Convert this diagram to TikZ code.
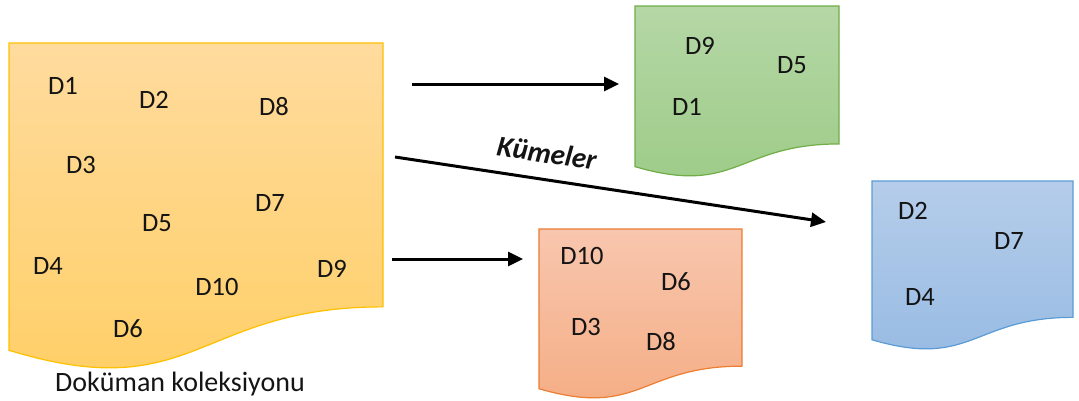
\documentclass[tikz,border=0pt]{standalone}
\usepackage{fontspec}
\setmainfont{Carlito}
\usetikzlibrary{arrows.meta}
\definecolor{txt}{HTML}{141414}
\definecolor{yTop}{HTML}{FFDB9E}
\definecolor{yBot}{HTML}{FFCE62}
\definecolor{yLine}{HTML}{FFC000}
\definecolor{gTop}{HTML}{B5D7A6}
\definecolor{gBot}{HTML}{9CCB86}
\definecolor{gLine}{HTML}{70AD47}
\definecolor{oTop}{HTML}{F8C6AE}
\definecolor{oBot}{HTML}{F4AC82}
\definecolor{oLine}{HTML}{ED7D31}
\definecolor{bTop}{HTML}{B5CDEA}
\definecolor{bBot}{HTML}{96BAE3}
\definecolor{bLine}{HTML}{5B9BD5}
\newcommand\docshape[5]{%
  \draw[#5] (#1,#2) -- (#1+#3,#2) -- (#1+#3,#2+0.802*#4)
    .. controls (#1+0.5*#3,#2+0.802*#4) and (#1+0.5*#3,#2+1.1075*#4) .. (#1,#2+0.934*#4) -- cycle;}
\begin{document}
\begin{tikzpicture}[x=1pt,y=-1pt,
  lbl/.style={text=txt,inner sep=0pt,font=\fontsize{26.5}{30}\selectfont},
  docline/.style={line width=1.2pt},
  arr/.style={line width=3pt,-{Triangle[length=15pt,width=14pt]}}]
\useasboundingbox (0,0) rectangle (1079,400);
% documents
\docshape{9}{43}{374}{329}{docline,draw=yLine,top color=yTop,bottom color=yBot}
\docshape{635}{6}{204}{172}{docline,draw=gLine,top color=gTop,bottom color=gBot}
\docshape{539}{229}{203}{171}{docline,draw=oLine,top color=oTop,bottom color=oBot}
\docshape{872}{181}{201}{170}{docline,draw=bLine,top color=bTop,bottom color=bBot}
% collection labels
\node[lbl] (c1) at (63,86) {D1};
\node[lbl] (c2) at (154,100) {D2};
\node[lbl] (c8) at (274,107) {D8};
\node[lbl] (c3) at (81,165) {D3};
\node[lbl] (c7) at (270,203) {D7};
\node[lbl] (c5) at (157,223) {D5};
\node[lbl] (c4) at (48,266) {D4};
\node[lbl] (c9) at (332,269) {D9};
\node[lbl] (c10) at (217,287) {D10};
\node[lbl] (c6) at (128,329) {D6};
\node[lbl,font=\fontsize{28}{32}\selectfont] (cap) at (180,384) {Doküman koleksiyonu};
% green cluster
\node[lbl] (g9) at (700,46) {D9};
\node[lbl] (g5) at (792,65) {D5};
\node[lbl] (g1) at (687,107) {D1};
% orange cluster
\node[lbl] (o10) at (582,256) {D10};
\node[lbl] (o6) at (676,282) {D6};
\node[lbl] (o3) at (586,327) {D3};
\node[lbl] (o8) at (661,342) {D8};
% blue cluster
\node[lbl] (b2) at (913,211) {D2};
\node[lbl] (b7) at (1009,241) {D7};
\node[lbl] (b4) at (920,297) {D4};
% arrows
\coordinate (a1s) at (412,84);
\coordinate (a1e) at (619,84);
\coordinate (a2s) at (395,157);
\coordinate (a2e) at (826,222);
\coordinate (a3s) at (392,259);
\coordinate (a3e) at (523,259);
\draw[arr] (a1s) -- (a1e);
\draw[arr] (a2s) -- (a2e);
\draw[arr] (a3s) -- (a3e);
\node[lbl,font=\fontsize{29}{32}\selectfont\bfseries\itshape,rotate=-8.6] (km) at (547,153) {Kümeler};
\end{tikzpicture}
\end{document}
